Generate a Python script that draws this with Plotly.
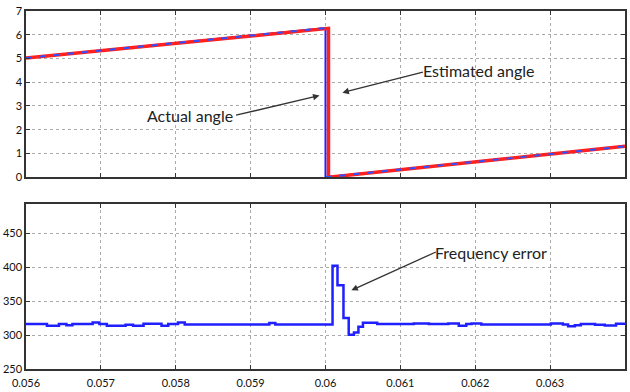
import plotly.graph_objects as go

# ---- data ----
actual_t = [0.056, 0.0600, 0.0600, 0.064]
actual_angle = [5.02, 6.28, 0.0, 1.30]

est_t = [0.056, 0.0600, 0.06004, 0.06004, 0.064]
est_angle = [5.02, 6.27, 6.27, 0.0, 1.30]

freq_t = [0.05600, 0.05628, 0.05644, 0.05654, 0.05662, 0.05689, 0.05698, 0.05708,
          0.05733, 0.05743, 0.05757, 0.05781, 0.05790, 0.05803, 0.05812, 0.05925,
          0.05933, 0.060094, 0.06016, 0.06024, 0.06031, 0.06038, 0.06044, 0.06050,
          0.06069, 0.06118, 0.06138, 0.06164, 0.06178, 0.06188, 0.06195, 0.06208,
          0.06301, 0.06317, 0.06324, 0.06333, 0.06341, 0.06360, 0.06373, 0.06388,
          0.06400]
freq_err = [316, 313.5, 316, 314.5, 316, 318.5, 316, 313.5,
            315, 313.5, 316.5, 313.5, 316, 318.5, 315.5, 317.5,
            315.5, 402, 373, 325, 300.5, 303.5, 312, 318,
            316, 317, 316, 317, 313.5, 316, 317, 315.5,
            317, 315.5, 313, 314.5, 316, 315, 314, 316.5,
            316.5]

x_ticks = [0.056, 0.057, 0.058, 0.059, 0.060, 0.061, 0.062, 0.063]
x_ticklabels = ["0.056", "0.057", "0.058", "0.059", "0.06", "0.061", "0.062", "0.063"]
top_yticks = [0, 1, 2, 3, 4, 5, 6, 7]
bot_yticks = [250, 300, 350, 400, 450]

tickfont = dict(family="Liberation Sans Narrow, Arial Narrow, Lato, sans-serif", size=11, color="#111")
annfont = dict(family="Lato, sans-serif", size=16, color="#222")

fig = go.Figure()
fig.add_trace(go.Scatter(x=actual_t, y=actual_angle, mode="lines",
                         line=dict(color="#1f1fff", width=2), xaxis="x", yaxis="y", showlegend=False))
fig.add_trace(go.Scatter(x=est_t, y=est_angle, mode="lines",
                         line=dict(color="#ff2020", width=3.5), xaxis="x", yaxis="y", showlegend=False))
# blue dashes visible over the ramps
fig.add_trace(go.Scatter(x=actual_t[:2] + [None] + actual_t[2:], y=actual_angle[:2] + [None] + actual_angle[2:],
                         mode="lines", line=dict(color="#3050ff", width=2, dash="6px,8px"),
                         xaxis="x", yaxis="y", showlegend=False))
fig.add_trace(go.Scatter(x=freq_t, y=freq_err, mode="lines", line_shape="hv",
                         line=dict(color="#1f1fff", width=2.5), xaxis="x2", yaxis="y2", showlegend=False))

axcommon = dict(showline=True, mirror="ticks", linecolor="#333", linewidth=1.5,
                ticks="inside", ticklen=4, tickcolor="#333",
                showgrid=True, gridcolor="#aaa", griddash="dot", gridwidth=1,
                zeroline=False, tickfont=tickfont)

PL, PW, PB, PH = 25, 602, 375, 364


def px(x):
    return (x - PL) / PW


def py(y):
    return (PB - y) / PH


fig.update_layout(
    width=630, height=392,
    margin=dict(l=25, r=3, t=11, b=17),
    paper_bgcolor="white", plot_bgcolor="white",
    xaxis=dict(range=[0.056, 0.064], domain=[0, 1], anchor="y", tickvals=x_ticks,
               ticktext=x_ticklabels, showticklabels=False, **axcommon),
    yaxis=dict(range=[0, 7], domain=[0.5357, 1], anchor="x", tickvals=top_yticks, **axcommon),
    xaxis2=dict(range=[0.056, 0.064], domain=[0, 1], anchor="y2", tickvals=x_ticks,
                ticktext=x_ticklabels, ticklabelstandoff=3, **axcommon),
    yaxis2=dict(range=[250, 493], domain=[0, 0.4615], anchor="x2", tickvals=bot_yticks, **axcommon),
)

anns = [
    dict(text="Estimated angle", xref="paper", yref="paper", x=px(480), y=py(72),
         xanchor="center", yanchor="middle", showarrow=False, font=annfont),
    dict(text="Actual angle", xref="paper", yref="paper", x=px(190), y=py(117),
         xanchor="center", yanchor="middle", showarrow=False, font=annfont),
    dict(text="Frequency error", xref="paper", yref="paper", x=px(492), y=py(257),
         xanchor="center", yanchor="middle", showarrow=False, font=annfont),
]
arrows = [((343, 94), (425, 73)), ((320, 97), (235, 117)), ((352, 295), (438, 256))]
for (hx, hy), (tx, ty) in arrows:
    anns.append(dict(text="", xref="paper", yref="paper", x=px(hx), y=py(hy),
                     ax=tx - hx, ay=ty - hy, axref="pixel", ayref="pixel",
                     showarrow=True, arrowhead=2, arrowsize=1, arrowwidth=1.3,
                     arrowcolor="#333"))
fig.update_layout(annotations=anns)

fig.write_html("out.html")
